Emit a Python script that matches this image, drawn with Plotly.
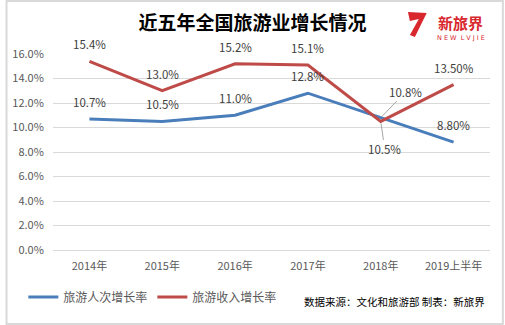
import plotly.graph_objects as go

categories = ["2014年", "2015年", "2016年", "2017年", "2018年", "2019上半年"]
visitors_growth = [10.7, 10.5, 11.0, 12.8, 10.8, 8.8]
revenue_growth = [15.4, 13.0, 15.2, 15.1, 10.5, 13.5]
visitors_labels = ["10.7%", "10.5%", "11.0%", "12.8%", "10.8%", "8.80%"]
revenue_labels = ["15.4%", "13.0%", "15.2%", "15.1%", "10.5%", "13.50%"]
series_names = ["旅游人次增长率", "旅游收入增长率"]
title_text = "近五年全国旅游业增长情况"
source_text = "数据来源：文化和旅游部 制表：新旅界"

W, H = 505, 325
L, R, T, B = 48, 490, 54, 250  # plot area in pixels

def px(x):
    return (x - L) / (R - L)

def py(y):
    return (B - y) / (B - T)

BLUE = "#4A7EBB"
RED = "#BE4B48"
FONT = "Noto Sans CJK SC"

fig = go.Figure()
fig.add_trace(go.Scatter(x=categories, y=visitors_growth, mode="lines", name=series_names[0],
                         line=dict(color=BLUE, width=3)))
fig.add_trace(go.Scatter(x=categories, y=revenue_growth, mode="lines", name=series_names[1],
                         line=dict(color=RED, width=3)))

annotations = []
lab_font = dict(family=FONT, size=11.5, color="#404040")
for i, c in enumerate(categories):
    for vals, labs, key in ((visitors_growth, visitors_labels, "v"), (revenue_growth, revenue_labels, "r")):
        if i == 4:
            ax, ay = (25, -26) if key == "v" else (4, 28)
            annotations.append(dict(x=c, y=vals[i], xref="x", yref="y", text=labs[i],
                                    showarrow=True, arrowhead=0, arrowwidth=1, arrowcolor="#A6A6A6",
                                    ax=ax, ay=ay, standoff=2, font=lab_font))
        else:
            annotations.append(dict(x=c, y=vals[i], xref="x", yref="y", text=labs[i],
                                    showarrow=False, yshift=17, font=lab_font))

# source note
annotations.append(dict(x=px(487), y=py(301), xref="paper", yref="paper", text=source_text,
                        showarrow=False, xanchor="right", yanchor="middle",
                        font=dict(family=FONT, size=10.5, color="#000000")))
# logo text
annotations.append(dict(x=px(460), y=py(22), xref="paper", yref="paper", text="<b>新旅界</b>",
                        showarrow=False, xanchor="center", yanchor="middle",
                        font=dict(family=FONT, size=15, color="#D9272E")))
annotations.append(dict(x=px(461), y=py(38), xref="paper", yref="paper", text="N E W  L V J I E",
                        showarrow=False, xanchor="center", yanchor="middle",
                        font=dict(family="DejaVu Sans", size=6.5, color="#D9272E")))

def path_from(points):
    return "M " + " L ".join(f"{px(x):.4f},{py(y):.4f}" for x, y in points) + " Z"

shapes = [
    dict(type="rect", xref="paper", yref="paper", x0=px(1), x1=px(503), y0=py(324), y1=py(1),
         line=dict(color="#D9D9D9", width=2), fillcolor="rgba(0,0,0,0)", layer="below"),
    dict(type="path", xref="paper", yref="paper",
         path=path_from([(407, 12), (426, 13), (414, 37), (409, 35), (418, 19), (409, 21)]),
         fillcolor="#D9272E", line=dict(width=0)),
]

fig.update_layout(
    width=W, height=H,
    margin=dict(l=L, r=W - R, t=T, b=H - B, pad=0),
    paper_bgcolor="white", plot_bgcolor="white",
    title=dict(text="<b>" + title_text + "</b>", x=0.5, xanchor="center", xref="container",
               y=1 - 23 / H, yanchor="middle", yref="container",
               font=dict(family=FONT, size=19, color="#000000")),
    xaxis=dict(type="category", range=[-0.5, 5.5], showgrid=False, showline=False, zeroline=False,
               ticks="outside", ticklen=6, tickcolor="rgba(0,0,0,0)",
               tickfont=dict(family=FONT, size=11, color="#595959")),
    yaxis=dict(range=[0, 16], dtick=2, tickformat=".1f", ticksuffix="%",
               showgrid=True, gridcolor="#D9D9D9", gridwidth=1,
               zeroline=True, zerolinecolor="#D9D9D9", zerolinewidth=1,
               showline=False, ticks="outside", ticklen=6, tickcolor="rgba(0,0,0,0)",
               tickfont=dict(family=FONT, size=11, color="#595959")),
    legend=dict(orientation="h", x=px(18), y=py(297), xanchor="left", yanchor="middle",
                font=dict(family=FONT, size=12, color="#595959"), bgcolor="rgba(0,0,0,0)",
                itemwidth=30, tracegroupgap=0),
    showlegend=True,
    annotations=annotations,
    shapes=shapes,
)

fig.write_html("out.html")
